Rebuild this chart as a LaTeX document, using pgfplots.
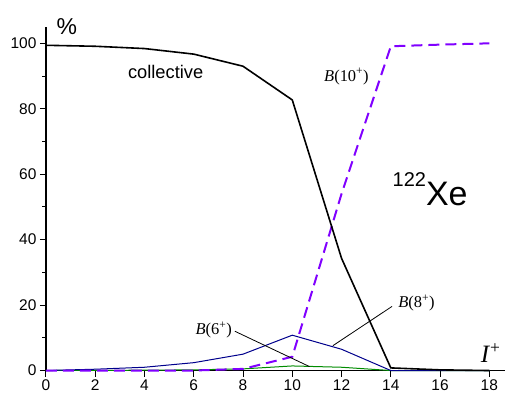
\documentclass[border=0pt]{standalone}
\usepackage{pgfplots}
\pgfplotsset{compat=1.18}
\usepackage{fontspec}
\setmainfont{Liberation Sans}
\newfontfamily\tms{Liberation Serif}
\definecolor{violetd}{RGB}{128,0,255}
\definecolor{navy}{RGB}{0,0,140}
\definecolor{grn}{RGB}{0,140,0}
\newcommand{\lab}[1]{{\tms\fontsize{16.5}{16.5}\selectfont\textit{B}(#1\textsuperscript{+})}}
\begin{document}
\begin{tikzpicture}
\begin{axis}[
  scale only axis,
  width=460pt, height=344pt,
  xmin=0, xmax=18.65, ymin=0, ymax=105,
  axis x line*=bottom, axis y line*=left,
  axis line style={black, line width=1.3pt},
  xtick={0,2,...,18}, ytick={0,20,...,100},
  minor ytick={10,30,...,90},
  tick align=outside,
  major tick length=6pt, minor tick length=3.5pt,
  tick style={black, line width=1pt},
  ticklabel style={font=\fontsize{15.5}{15.5}\selectfont},
  /pgf/number format/assume math mode=true,
  clip=false,
]
\addplot[grn, line width=1pt] coordinates {
  (0,0) (2,0.05) (4,0.1) (6,0.2) (8,0.5) (10,1.4) (12,1.0) (14,0) (16,0) (18,0)
};
\addplot[navy, line width=1pt] coordinates {
  (0,0) (2,0.4) (4,1.0) (6,2.4) (8,5.0) (10,10.8) (12,6.5) (14,0) (16,0) (18,0)
};
\addplot[violetd, line width=2pt, dash pattern=on 11pt off 6pt] coordinates {
  (0,0) (2,0) (4,0) (6,0) (8,0.5) (10,4.2) (12,54) (14,99.1) (16,99.6) (18,100)
};
\addplot[black, line width=1.6pt] coordinates {
  (0,99.4) (2,99.1) (4,98.4) (6,96.7) (8,93.0) (10,82.7) (12,34.3) (14,0.8) (16,0.2) (18,0)
};
\draw[black, line width=0.8pt] (axis cs:7.67,12.0) -- (axis cs:10.7,1.2);
\draw[black, line width=0.8pt] (axis cs:14.05,19.6) -- (axis cs:11.65,7.6);
\node at (axis cs:6.81,12.35) {\lab{6}};
\node at (axis cs:15.04,20.6) {\lab{8}};
\node at (axis cs:12.2,89.9) {\lab{10}};
\node[font=\fontsize{18.3}{18.3}\selectfont] at (axis cs:4.86,91.1) {collective};
\node[font=\fontsize{23}{23}\selectfont] at (axis cs:0.85,105.2) {\%};
\node[anchor=base west, inner sep=0pt] at (axis cs:14.07,50.4)
  {\fontsize{34}{34}\selectfont{\fontsize{20}{20}\selectfont\raisebox{19pt}{122}}Xe};
\node[anchor=base west, inner sep=0pt] at (axis cs:17.65,2.6)
  {\tms\fontsize{25}{25}\selectfont\textit{I}\textsuperscript{+}};
\path (current axis.origin) ++(-46pt,-28pt) rectangle ++(506pt,399pt);
\end{axis}
\end{tikzpicture}
\end{document}
